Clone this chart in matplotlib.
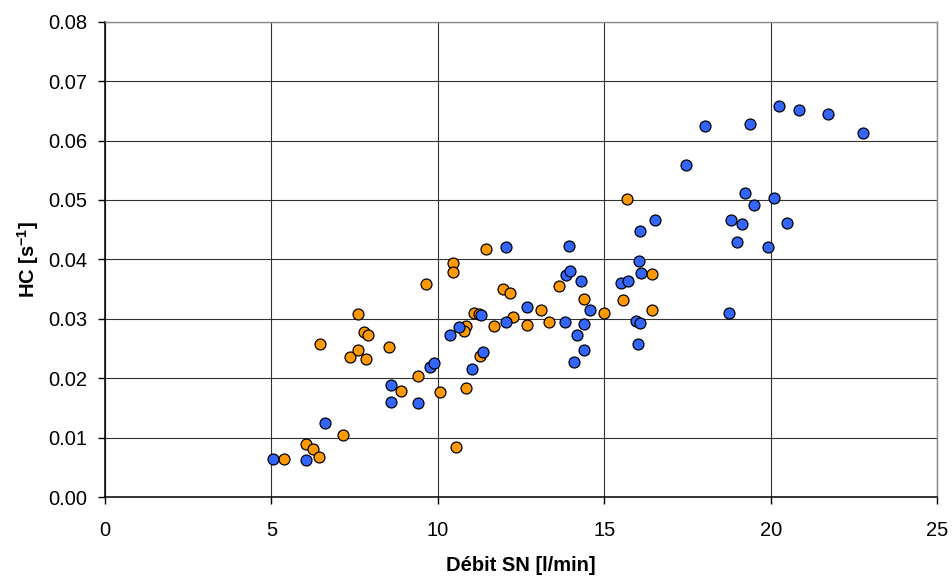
import matplotlib
matplotlib.use('Agg')
import matplotlib.pyplot as plt
from matplotlib.ticker import FormatStrFormatter

plt.rcParams['font.family'] = ['Liberation Sans', 'DejaVu Sans']
plt.rcParams['mathtext.fontset'] = 'custom'
plt.rcParams['mathtext.bf'] = 'Liberation Sans:bold'
plt.rcParams['mathtext.rm'] = 'Liberation Sans:bold'

# blue series
blue_x = [5.05, 6.04, 6.62, 8.59, 8.58, 9.39, 9.75, 9.90, 10.38, 10.65, 11.04, 11.35, 11.30,
          12.06, 12.06, 12.68, 13.83, 13.86, 13.98, 13.95, 14.10, 14.19, 14.29, 14.40, 14.40,
          14.56, 15.50, 15.72, 15.95, 16.06, 16.00, 16.03, 16.06, 16.11, 16.54, 17.45, 18.04,
          19.38, 20.25, 20.86, 21.73, 22.78, 18.81, 18.99, 19.15, 19.23, 19.50, 20.11, 19.93,
          20.50, 18.75]
blue_y = [0.0064, 0.0063, 0.0124, 0.0189, 0.0160, 0.0158, 0.0219, 0.0225, 0.0272, 0.0286,
          0.0215, 0.0244, 0.0307, 0.0295, 0.0421, 0.0319, 0.0295, 0.0373, 0.0380, 0.0422,
          0.0227, 0.0272, 0.0364, 0.0292, 0.0248, 0.0314, 0.0361, 0.0364, 0.0297, 0.0293,
          0.0257, 0.0398, 0.0447, 0.0377, 0.0466, 0.0558, 0.0625, 0.0627, 0.0658, 0.0652,
          0.0644, 0.0612, 0.0467, 0.0430, 0.0459, 0.0511, 0.0492, 0.0504, 0.0420, 0.0461,
          0.0309]

# orange series
orange_x = [5.37, 6.04, 6.26, 6.42, 7.14, 6.45, 7.35, 7.60, 7.60, 7.79, 7.90, 7.85, 8.54,
            8.90, 9.40, 9.65, 10.07, 10.45, 10.45, 10.56, 10.86, 10.86, 10.80, 11.10, 11.23,
            11.28, 11.45, 11.70, 11.95, 12.16, 12.26, 12.68, 13.10, 13.35, 13.65, 14.38,
            14.99, 15.57, 15.69, 16.44, 16.44]
orange_y = [0.0064, 0.0090, 0.0080, 0.0068, 0.0104, 0.0258, 0.0235, 0.0248, 0.0308, 0.0277,
            0.0273, 0.0232, 0.0253, 0.0178, 0.0204, 0.0358, 0.0177, 0.0394, 0.0379, 0.0084,
            0.0183, 0.0287, 0.0280, 0.0310, 0.0308, 0.0237, 0.0417, 0.0287, 0.0350, 0.0343,
            0.0303, 0.0290, 0.0315, 0.0295, 0.0355, 0.0333, 0.0310, 0.0331, 0.0501, 0.0375,
            0.0314]

fig = plt.figure(figsize=(9.52, 5.78), dpi=100)
ax = fig.add_axes([0.1103, 0.1401, 0.8740, 0.8224])

ax.scatter(orange_x, orange_y, s=62, c='#FF9900', edgecolors='black', linewidths=0.9, zorder=3)
ax.scatter(blue_x, blue_y, s=62, c='#3366FF', edgecolors='black', linewidths=0.9, zorder=4)

ax.set_xlim(0, 25)
ax.set_ylim(0, 0.08)
ax.set_xticks([0, 5, 10, 15, 20, 25])
ax.set_yticks([0.00, 0.01, 0.02, 0.03, 0.04, 0.05, 0.06, 0.07, 0.08])
ax.yaxis.set_major_formatter(FormatStrFormatter('%.2f'))
ax.grid(True, color='#333333', linewidth=0.8, zorder=0)
ax.set_axisbelow(True)

ax.tick_params(direction='out', length=5, width=1, labelsize=14.5, colors='black')
ax.tick_params(axis='y', pad=8)
ax.tick_params(axis='x', pad=12)
for side in ['left', 'bottom']:
    ax.spines[side].set_color('black')
    ax.spines[side].set_linewidth(1.1)
for side in ['top', 'right']:
    ax.spines[side].set_color('#888888')
    ax.spines[side].set_linewidth(1.0)

ax.set_xlabel('Débit SN [l/min]', fontsize=14.5, fontweight='bold', labelpad=12)
ax.set_ylabel(r'HC [s$^{\mathbf{-1}}$]', fontsize=14.5, fontweight='bold', labelpad=5)

fig.savefig('out.png', dpi=100)
